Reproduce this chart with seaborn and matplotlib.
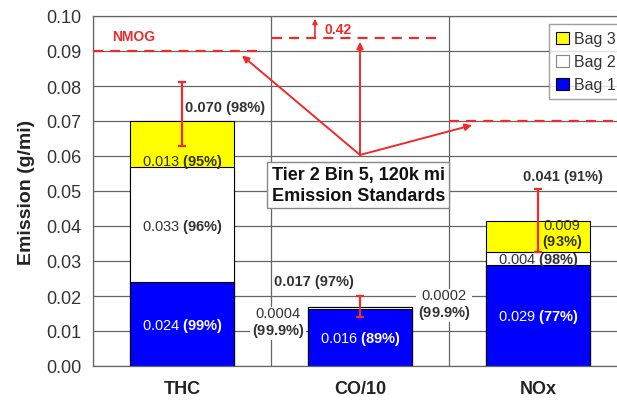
import matplotlib
matplotlib.use("Agg")
import matplotlib.pyplot as plt
from matplotlib.patches import Patch
import seaborn as sns
import pandas as pd
import numpy as np

# ---------------- data ----------------
categories = ["THC", "CO/10", "NOx"]
bag1 = [0.024, 0.0164, 0.029]
bag2 = [0.033, 0.0004, 0.0036]
bag3 = [0.013, 0.0002, 0.0088]
err_low = [0.0629, 0.0139, 0.0326]
err_high = [0.0811, 0.0200, 0.0506]

bag1_lab = ["0.024", "0.016", "0.029"]
bag2_lab = ["0.033", "0.0004", "0.004"]
bag3_lab = ["0.013", "0.0002", "0.009"]
total_lab = ["0.070", "0.017", "0.041"]
bag1_pct = ["99", "89", "77"]
bag2_pct = ["96", "99.9", "98"]
bag3_pct = ["95", "99.9", "93"]
total_pct = ["98", "97", "91"]

std_labels = ["NMOG", "0.42"]
std_levels = [0.090, 0.0937, 0.070]
yticks = [0.00, 0.01, 0.02, 0.03, 0.04, 0.05, 0.06, 0.07, 0.08, 0.09, 0.10]

# ---------------- style ----------------
sns.set_theme(style="white")
plt.rcParams["font.family"] = ["Liberation Sans", "DejaVu Sans"]
plt.rcParams["mathtext.fontset"] = "custom"
plt.rcParams["mathtext.rm"] = "Liberation Sans"
plt.rcParams["mathtext.bf"] = "Liberation Sans:bold"

YELLOW = "#FFFF00"
BLUE = "#0000FF"
RED = "#EE2A2A"
GRID = "#666666"
TXT = "#333333"

df = pd.DataFrame({"cat": categories, "b1": bag1, "b2": bag2, "b3": bag3})
df["c2"] = df["b1"] + df["b2"]
df["c3"] = df["c2"] + df["b3"]

fig = plt.figure(figsize=(6.17, 4.06), dpi=100)
ax = fig.add_axes([93 / 617, 39 / 406, 534 / 617, 350 / 406])

W = 0.58
sns.barplot(data=df, x="cat", y="c3", color=YELLOW, saturation=1, width=W,
            edgecolor="black", linewidth=0.8, ax=ax, zorder=2)
sns.barplot(data=df, x="cat", y="c2", color="white", saturation=1, width=W,
            edgecolor="black", linewidth=0.8, ax=ax, zorder=2)
sns.barplot(data=df, x="cat", y="b1", color=BLUE, saturation=1, width=W,
            edgecolor="black", linewidth=0.8, ax=ax, zorder=2)

xpos = np.arange(len(categories))
tot = df["c3"].values
yerr = [tot - np.array(err_low), np.array(err_high) - tot]
ax.errorbar(xpos, tot, yerr=yerr, fmt="none", ecolor=RED, elinewidth=1.6,
            capsize=3, capthick=1.6, zorder=6)

# axes
ax.set_xlim(-0.5, 2.5)
ax.set_ylim(0, 0.10)
ax.set_yticks(yticks)
ax.set_yticklabels([f"{v:.2f}" for v in yticks], fontsize=13, color=TXT)
ax.set_xticks(xpos)
ax.set_xticklabels(categories, fontsize=13, fontweight="bold", color="#222222")
ax.set_xticks([-0.5, 0.5, 1.5, 2.5], minor=True)
ax.tick_params(axis="x", which="major", length=0, pad=10)
ax.tick_params(axis="x", which="minor", length=4.5, width=0.9, color=GRID, direction="out")
ax.tick_params(axis="y", which="major", length=4.5, width=0.9, color=GRID, direction="out", pad=4)
ax.set_axisbelow(True)
ax.grid(True, axis="y", which="major", color=GRID, lw=0.9)
ax.grid(True, axis="x", which="minor", color=GRID, lw=0.9)
ax.grid(False, axis="x", which="major")
for s in ax.spines.values():
    s.set_color(GRID)
    s.set_linewidth(0.9)
ax.set_xlabel("")
ax.set_ylabel("Emission (g/mi)", fontsize=14, fontweight="bold", color="#222222", labelpad=8)

# standards lines
ax.plot([-0.5, 0.455], [std_levels[0]] * 2, color=RED, lw=1.6, dashes=(4.5, 3.2), zorder=4)
ax.plot([0.506, 1.46], [std_levels[1]] * 2, color=RED, lw=1.6, dashes=(4.5, 3.2), zorder=4)
ax.plot([1.5, 2.5], [std_levels[2]] * 2, color=RED, lw=1.6, dashes=(4.5, 3.2), zorder=4)
ax.text(-0.393, 0.0943, std_labels[0], color=RED, fontsize=10, fontweight="bold",
        ha="left", va="center")
ax.annotate("", xy=(0.747, 0.0992), xytext=(0.747, std_levels[1]),
            arrowprops=dict(arrowstyle="-|>", color=RED, lw=1.2, mutation_scale=7,
                            shrinkA=0, shrinkB=0), zorder=5)
ax.text(0.80, 0.0963, std_labels[1], color=RED, fontsize=10, fontweight="bold",
        ha="left", va="center")

origin = (1.0, 0.0603)
for tgt in [(0.337, 0.0887), (1.0, 0.0926), (1.629, 0.0688)]:
    ax.annotate("", xy=tgt, xytext=origin,
                arrowprops=dict(arrowstyle="-|>", color=RED, lw=1.4, mutation_scale=10,
                                shrinkA=0, shrinkB=0), zorder=5)

ax.text(0.99, 0.0517, "Tier 2 Bin 5, 120k mi\nEmission Standards", ha="center", va="center",
        fontsize=13, fontweight="bold", color="#111111", linespacing=1.25, zorder=7,
        bbox=dict(boxstyle="square,pad=0.25", fc="white", ec="#888888", lw=1))

# value labels
def lab(v, p):
    return v + r" $\mathbf{(" + p + r"\%)}$"

def lab2(v, p):
    return v + "\n" + r"$\mathbf{(" + p + r"\%)}$"

FS = 10.5
TFS = 10.5
# THC
ax.text(0, 0.0117, lab(bag1_lab[0], bag1_pct[0]), color="white", fontsize=FS, ha="center", va="center", zorder=7)
ax.text(0, 0.0400, lab(bag2_lab[0], bag2_pct[0]), color=TXT, fontsize=FS, ha="center", va="center", zorder=7)
ax.text(0, 0.0586, lab(bag3_lab[0], bag3_pct[0]), color="#333300", fontsize=FS, ha="center", va="center", zorder=7)
ax.text(0.242, 0.0740, f"{total_lab[0]} ({total_pct[0]}%)", color=TXT, fontsize=TFS, fontweight="bold", ha="center", va="center", zorder=7)
# CO/10
ax.text(1, 0.0080, lab(bag1_lab[1], bag1_pct[1]), color="white", fontsize=FS, ha="center", va="center", zorder=7)
ax.text(0.742, 0.0243, f"{total_lab[1]} ({total_pct[1]}%)", color=TXT, fontsize=TFS, fontweight="bold", ha="center", va="center", zorder=7)
ax.text(0.539, 0.0124, lab2(bag2_lab[1], bag2_pct[1]), color=TXT, fontsize=FS, ha="center", va="center", zorder=7,
        linespacing=1.05, bbox=dict(boxstyle="square,pad=0.1", fc="white", ec="none"))
ax.text(1.472, 0.0176, lab2(bag3_lab[1], bag3_pct[1]), color=TXT, fontsize=FS, ha="center", va="center", zorder=7,
        linespacing=1.05, bbox=dict(boxstyle="square,pad=0.1", fc="white", ec="none"))
# NOx
ax.text(2, 0.0143, lab(bag1_lab[2], bag1_pct[2]), color="white", fontsize=FS, ha="center", va="center", zorder=7)
ax.text(2, 0.0306, lab(bag2_lab[2], bag2_pct[2]), color=TXT, fontsize=FS, ha="center", va="center", zorder=7)
ax.text(2.135, 0.0377, lab2(bag3_lab[2], bag3_pct[2]), color="#333300", fontsize=FS, ha="center", va="center",
        linespacing=1.05, zorder=7)
ax.text(2.14, 0.0543, f"{total_lab[2]} ({total_pct[2]}%)", color=TXT, fontsize=TFS, fontweight="bold", ha="center", va="center", zorder=7)

# legend
handles = [Patch(fc=YELLOW, ec="black", lw=0.8), Patch(fc="white", ec="#888888", lw=0.8),
           Patch(fc=BLUE, ec="black", lw=0.8)]
leg = ax.legend(handles, ["Bag 3", "Bag 2", "Bag 1"], loc="upper left",
                bbox_to_anchor=(0.854, 0.977), fontsize=11.5, frameon=True, fancybox=False,
                edgecolor="#888888", handlelength=0.8, handleheight=0.8, handletextpad=0.3,
                borderpad=0.45, labelspacing=0.5, borderaxespad=0)
leg.get_frame().set_linewidth(1)
for t in leg.get_texts():
    t.set_color(TXT)
leg.set_zorder(8)

fig.savefig("out.png", dpi=100)
